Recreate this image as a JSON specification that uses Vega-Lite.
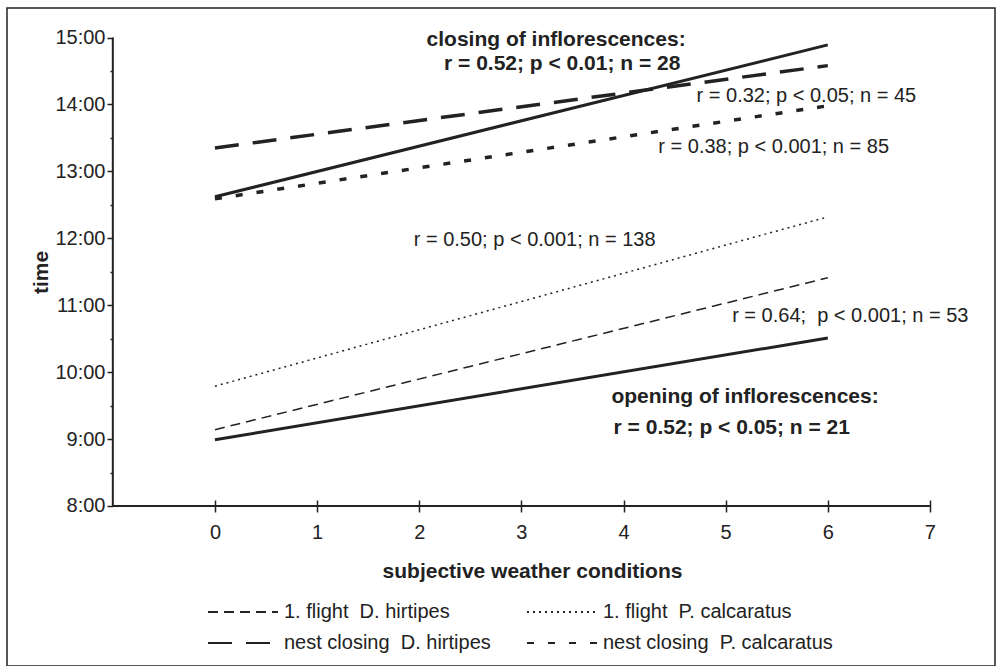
{
  "$schema": "https://vega.github.io/schema/vega-lite/v6.json",
  "width": 988,
  "height": 658,
  "autosize": {"type": "none"},
  "padding": {"left": 7, "top": 8, "right": 2, "bottom": 0},
  "background": "white",
  "config": {
    "view": {"stroke": "#222", "strokeWidth": 1.5, "fill": "white"},
    "font": "Liberation Sans",
    "axis": {"grid": false, "domain": false, "labelFont": "Liberation Sans", "titleFont": "Liberation Sans", "tickColor": "#222", "labelColor": "#222", "titleColor": "#222", "labelFlush": false, "labelOverlap": false},
    "legend": {"labelFont": "Liberation Sans"}
  },
  "datasets": {
    "solid": [
      {"series": "closing of inflorescences", "x": 0, "y": 12.62},
      {"series": "closing of inflorescences", "x": 6, "y": 14.89},
      {"series": "opening of inflorescences", "x": 0, "y": 8.99},
      {"series": "opening of inflorescences", "x": 6, "y": 10.51}
    ],
    "flight": [
      {"series": "1. flight\u00a0\u00a0D. hirtipes", "x": 0, "y": 9.14},
      {"series": "1. flight\u00a0\u00a0D. hirtipes", "x": 6, "y": 11.41},
      {"series": "1. flight\u00a0\u00a0P. calcaratus", "x": 0, "y": 9.79},
      {"series": "1. flight\u00a0\u00a0P. calcaratus", "x": 6, "y": 12.32}
    ],
    "nest": [
      {"series": "nest closing\u00a0\u00a0D. hirtipes", "x": 0, "y": 13.35},
      {"series": "nest closing\u00a0\u00a0D. hirtipes", "x": 6, "y": 14.58},
      {"series": "nest closing\u00a0\u00a0P. calcaratus", "x": 0, "y": 12.59},
      {"series": "nest closing\u00a0\u00a0P. calcaratus", "x": 6, "y": 13.98}
    ],
    "axisLines": [
      {"x": -1, "x2": 7, "y": 8, "y2": 8},
      {"x": -1, "x2": -1, "y": 8, "y2": 15}
    ],
    "boldText": [
      {"label": "closing of inflorescences:", "x": 3.34, "y": 14.96},
      {"label": "r = 0.52; p < 0.01; n = 28", "x": 3.40, "y": 14.60},
      {"label": "opening of inflorescences:", "x": 5.19, "y": 9.63},
      {"label": "r = 0.52; p < 0.05; n = 21", "x": 5.06, "y": 9.16}
    ],
    "plainText": [
      {"label": "r = 0.32; p < 0.05; n = 45", "x": 5.79, "y": 14.13},
      {"label": "r = 0.38; p < 0.001; n = 85", "x": 5.47, "y": 13.36},
      {"label": "r = 0.50; p < 0.001; n = 138", "x": 3.13, "y": 11.97},
      {"label": "r = 0.64;\u00a0\u00a0p < 0.001; n = 53", "x": 6.22, "y": 10.84}
    ]
  },
  "encoding": {
    "x": {
      "field": "x", "type": "quantitative",
      "scale": {"domain": [-2.036, 7.637], "nice": false, "zero": false},
      "axis": {
        "title": "subjective weather conditions",
        "values": [0, 1, 2, 3, 4, 5, 6, 7],
        "offset": -166,
        "tickSize": 12,
        "tickWidth": 1.5,
        "labelFontSize": 20,
        "labelPadding": 10,
        "titleFontSize": 21,
        "titleFontWeight": "bold",
        "titlePadding": 18,
        "titleX": 525
      }
    },
    "y": {
      "field": "y", "type": "quantitative",
      "scale": {"domain": [5.609, 15.441], "nice": false, "zero": false},
      "axis": {
        "title": "time",
        "values": [8, 8.5, 9, 9.5, 10, 10.5, 11, 11.5, 12, 12.5, 13, 13.5, 14, 14.5, 15],
        "labelExpr": "datum.value % 1 == 0 ? datum.value + ':00' : ''",
        "offset": -106,
        "tickSize": {"condition": {"test": "datum.value % 1 != 0", "value": 3}, "value": 6},
        "tickWidth": 1.5,
        "labelFontSize": 20,
        "labelPadding": 2,
        "titleFontSize": 21,
        "titleFontWeight": "bold",
        "titlePadding": 3,
        "titleY": 264
      }
    }
  },
  "layer": [
    {
      "data": {"name": "axisLines"},
      "mark": {"type": "rule", "color": "#222", "strokeWidth": 2},
      "encoding": {"x2": {"field": "x2"}, "y2": {"field": "y2"}}
    },
    {
      "data": {"name": "solid"},
      "mark": {"type": "line", "color": "#222", "strokeWidth": 3},
      "encoding": {"detail": {"field": "series", "type": "nominal"}}
    },
    {
      "data": {"name": "flight"},
      "mark": {"type": "line", "color": "#222", "strokeWidth": 1.5},
      "encoding": {
        "strokeDash": {
          "field": "series", "type": "nominal",
          "scale": {
            "domain": ["1. flight\u00a0\u00a0D. hirtipes", "nest closing\u00a0\u00a0D. hirtipes", "1. flight\u00a0\u00a0P. calcaratus", "nest closing\u00a0\u00a0P. calcaratus"],
            "range": [[10, 6], [24, 14], [2, 4], [7, 14]]
          },
          "legend": {
            "title": null, "orient": "none", "legendX": 226, "legendY": 594,
            "columns": 2, "columnPadding": 32, "rowPadding": 11, "padding": 0,
            "symbolType": "M-7,0H7", "symbolSize": 100, "symbolStrokeColor": "#222", "symbolStrokeWidth": 2,
            "labelFontSize": 20, "labelOffset": 31, "labelColor": "#222", "labelLimit": 400
          }
        }
      }
    },
    {
      "data": {"name": "nest"},
      "mark": {"type": "line", "color": "#222", "strokeWidth": 3.5},
      "encoding": {
        "strokeDash": {"field": "series", "type": "nominal"}
      }
    },
    {
      "data": {"name": "boldText"},
      "mark": {"type": "text", "font": "Liberation Sans", "fontSize": 21, "fontWeight": "bold", "color": "#222", "align": "center", "baseline": "middle"},
      "encoding": {"text": {"field": "label"}}
    },
    {
      "data": {"name": "plainText"},
      "mark": {"type": "text", "font": "Liberation Sans", "fontSize": 20, "color": "#222", "align": "center", "baseline": "middle"},
      "encoding": {"text": {"field": "label"}}
    }
  ]
}
